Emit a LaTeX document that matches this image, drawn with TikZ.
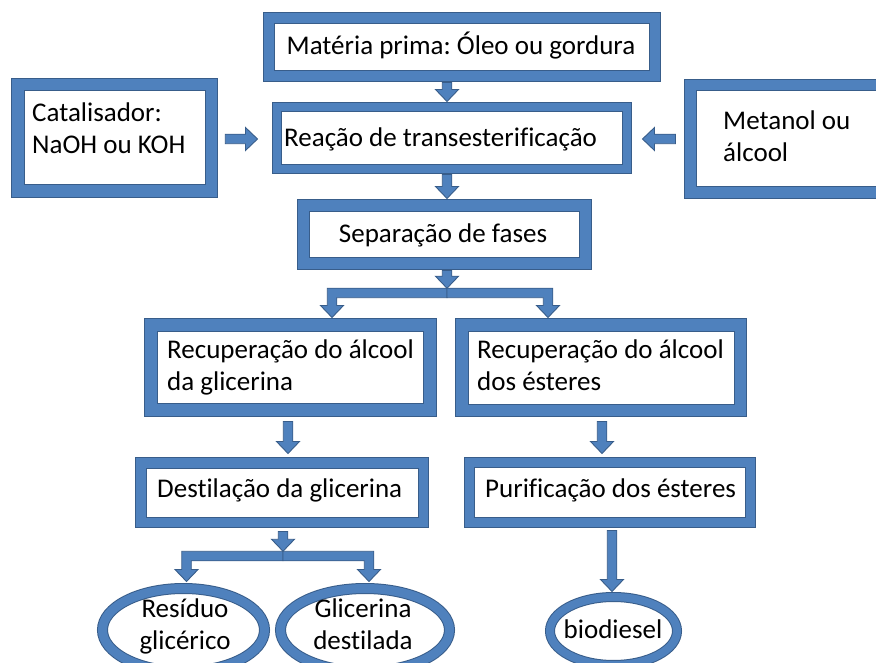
\documentclass[tikz,border=0pt]{standalone}
\usepackage{fontspec}
\setmainfont{Carlito}[Ligatures=CommonOff]
\frenchspacing
\usetikzlibrary{calc,shapes.geometric,backgrounds}
\definecolor{dk}{HTML}{385D8A}
\definecolor{md}{HTML}{4F81BD}
\def\aS{4.75pt}\def\aH{11.5pt}\def\aL{12pt}
\tikzset{
  box/.style={rectangle, draw=dk, line width=1pt, double=md, double distance=#1, fill=white, inner sep=0pt},
  oval/.style={ellipse, draw=dk, line width=1pt, double=md, double distance=#1, fill=white, inner sep=0pt},
  arrsty/.style={draw=dk, fill=md, line width=0.9pt, line join=miter},
  txt/.style={font=\fontsize{27}{32}\selectfont, inner sep=0pt, align=left, text=black}
}
\newcommand\barrow[2]{%
  \coordinate (ba-c) at ($(#2)!\aL!(#1)$);
  \filldraw[arrsty] ($(#1)!\aS!90:(#2)$) -- ($(ba-c)!\aS!-90:(#1)$) -- ($(ba-c)!\aH!-90:(#1)$) -- (#2)
    -- ($(ba-c)!\aH!90:(#1)$) -- ($(ba-c)!\aS!90:(#1)$) -- ($(#1)!\aS!-90:(#2)$) -- cycle;}
\newcommand\elbow[3]{%
  \filldraw[arrsty] let \p1=(#1), \p2=(#2) in
    (\x1,{\y1+\aS}) -- ({\x2-(#3)*\aS},{\y1+\aS}) -- ({\x2-(#3)*\aS},{\y2+\aL})
    -- ({\x2-(#3)*\aH},{\y2+\aL}) -- (\x2,\y2) -- ({\x2+(#3)*\aH},{\y2+\aL})
    -- ({\x2+(#3)*\aS},{\y2+\aL}) -- ({\x2+(#3)*\aS},{\y1-\aS}) -- (\x1,{\y1-\aS}) -- cycle;}
\begin{document}
\begin{tikzpicture}[x=1pt,y=-1pt]
\useasboundingbox (0,0) rectangle (876,663);
% boxes
\node[box=10pt, minimum width=386pt, minimum height=58pt] (mat) at (462,47) {};
\node[box=8pt, minimum width=350pt, minimum height=62pt] (rea) at (452,138) {};
\node[box=11.5pt, minimum width=193.5pt, minimum height=106.5pt] (cat) at (114.5,138) {};
\node[box=10.5pt, minimum width=203.5pt, minimum height=107.5pt] (met) at (792,139) {};
\node[box=11pt, minimum width=282pt, minimum height=58pt] (sep) at (444.5,234.5) {};
\node[box=12pt, minimum width=279pt, minimum height=85pt] (recL) at (290.5,367.5) {};
\node[box=11.5pt, minimum width=278.5pt, minimum height=85.5pt] (recR) at (601,367.5) {};
\node[box=9.5pt, minimum width=282.5pt, minimum height=59.5pt] (des) at (282,492.5) {};
\node[box=9pt, minimum width=281pt, minimum height=60pt] (pur) at (610,492.5) {};
\node[oval=9pt, minimum width=162pt, minimum height=83pt] (res) at (183.5,630) {};
\node[oval=9pt, minimum width=169pt, minimum height=83pt] (gli) at (365,630) {};
\node[oval=8pt, minimum width=127pt, minimum height=68pt] (bio) at (613.5,631) {};
% texts (multi-line nodes: base = last line)
\node[txt, anchor=base] (tmat) at (461,55) {Matéria prima: Óleo ou gordura};
\node[txt, anchor=base west] (trea) at (284,147) {Reação de transesterificação};
\node[txt, anchor=base west] (tcat) at (32,154) {Catalisador:\\NaOH ou KOH};
\node[txt, anchor=base west] (tmet) at (723,162) {Metanol ou\\álcool};
\node[txt, anchor=base] (tsep) at (443,243) {Separação de fases};
\node[txt, anchor=base west] (trecL) at (167,390) {Recuperação do álcool\\da glicerina};
\node[txt, anchor=base west] (trecR) at (477,390) {Recuperação do álcool\\dos ésteres};
\node[txt, anchor=base west] (tdes) at (157,497) {Destilação da glicerina};
\node[txt, anchor=base west] (tpur) at (485,497) {Purificação dos ésteres};
\node[txt, anchor=base, align=center] (tres) at (185,649) {Resíduo\\glicérico};
\node[txt, anchor=base, align=center] (tgli) at (363,649) {Glicerina\\destilada};
\node[txt, anchor=base] (tbio) at (613,638) {biodiesel};
% connector end points
\coordinate (a1s) at ([xshift=-15pt,yshift=-6pt]mat.south);
\coordinate (a1e) at ([xshift=-5pt,yshift=5pt]rea.north);
\coordinate (a2s) at ([xshift=-5pt,yshift=-5pt]rea.south);
\coordinate (a2e) at ([xshift=2.5pt,yshift=6.5pt]sep.north);
\coordinate (a3s) at ([xshift=2.5pt,yshift=-6.5pt]sep.south);
\coordinate (sj) at (447,293);
\coordinate (a3e) at ([yshift=4.75pt]sj);
\coordinate (eL) at ([xshift=41.5pt,yshift=7pt]recL.north);
\coordinate (eR) at ([xshift=-53pt,yshift=6.75pt]recR.north);
\coordinate (a4s) at ([xshift=-2.5pt,yshift=-11pt]recL.south);
\coordinate (a4e) at ([xshift=6pt,yshift=8.75pt]des.north);
\coordinate (a5s) at ([xshift=1pt,yshift=-10.75pt]recR.south);
\coordinate (a5e) at ([xshift=-8pt,yshift=8.5pt]pur.north);
\coordinate (a6s) at ([xshift=1pt,yshift=-8.75pt]des.south);
\coordinate (sj2) at (283,556);
\coordinate (a6e) at ([yshift=4.75pt]sj2);
\coordinate (eRes) at ([xshift=3pt,yshift=6.5pt]res.north);
\coordinate (eGli) at ([xshift=4pt,yshift=6.5pt]gli.north);
\coordinate (a7s) at ([xshift=2pt,yshift=-7.5pt]pur.south);
\coordinate (a7e) at ([xshift=-1.5pt,yshift=5pt]bio.north);
\coordinate (a8s) at ([xshift=13.5pt,yshift=-1pt]cat.east);
\coordinate (a8e) at ([xshift=-19pt,yshift=-1pt]rea.west);
\coordinate (a9s) at ([xshift=-14.25pt]met.west);
\coordinate (a9e) at ([xshift=15pt,yshift=-1pt]rea.east);
\begin{scope}[on background layer]
\fill[white] (0,0) rectangle (876,663);
\barrow{a1s}{a1e}
\barrow{a2s}{a2e}
\barrow{a3s}{a3e}
\elbow{sj}{eL}{1}
\elbow{sj}{eR}{-1}
\barrow{a4s}{a4e}
\barrow{a5s}{a5e}
\barrow{a6s}{a6e}
\elbow{sj2}{eRes}{1}
\elbow{sj2}{eGli}{-1}
\barrow{a7s}{a7e}
\barrow{a8s}{a8e}
\barrow{a9s}{a9e}
\end{scope}
\end{tikzpicture}
\end{document}
